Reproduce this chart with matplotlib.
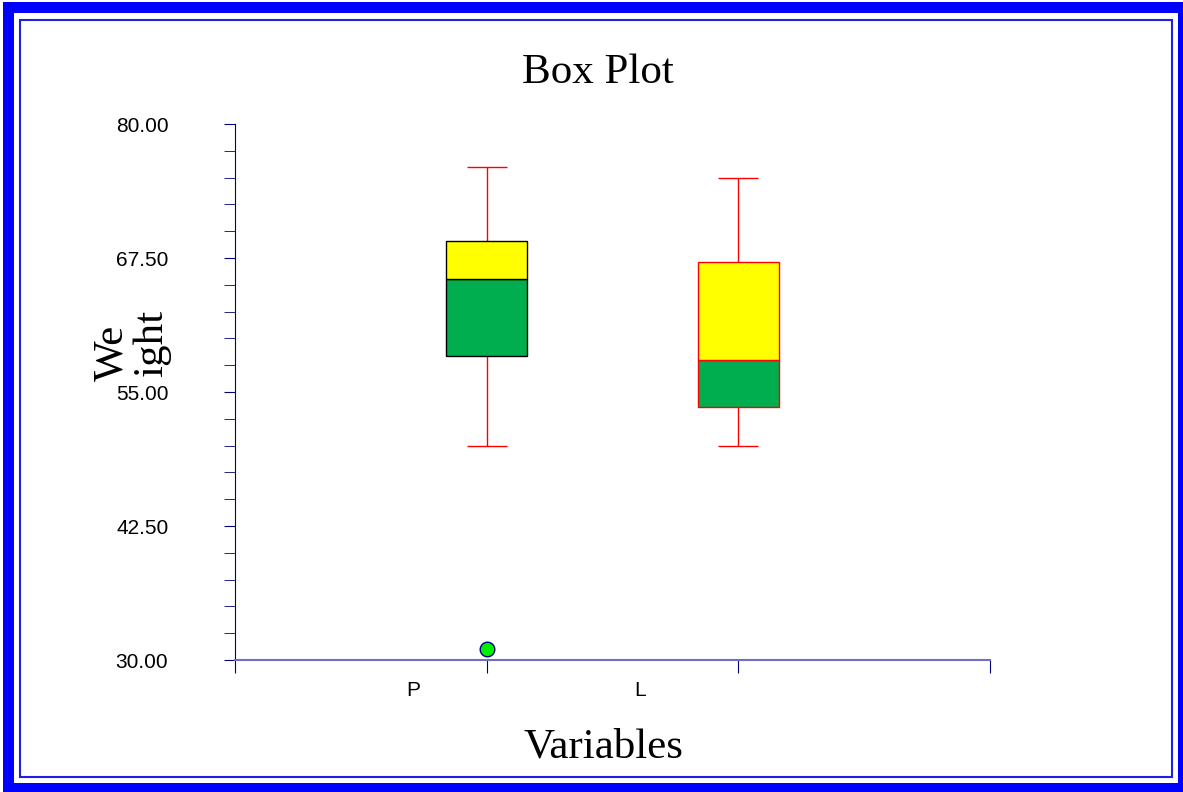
import matplotlib.pyplot as plt
from matplotlib.patches import Rectangle
import numpy as np

# * Box plot of weight by variable

categories = ['P', 'L']
whisker_low = [50.0, 50.0]
q1 = [58.4, 53.6]
median = [65.5, 58.0]
q3 = [69.1, 67.1]
whisker_high = [76.0, 75.0]
outlier_x = [1]
outlier_y = [31.0]
edge_colors = ['black', 'red']

ytick_major = np.arange(30, 80.1, 12.5)
ytick_minor = np.arange(30, 80.1, 2.5)

W, H = 1183, 792
fig = plt.figure(figsize=(W / 100, H / 100), dpi=100)


def px(x, y):
    # pixel position (from top left) -> figure fraction
    return x / W, 1 - y / H


# frame around the figure
fig.patches.append(Rectangle((3 / W, 0), 1, 1 - 2 / H, transform=fig.transFigure,
                             facecolor='#0000ff', edgecolor='none', zorder=-3))
fig.patches.append(Rectangle(px(14, 783), (1178 - 14) / W, (783 - 13) / H,
                             transform=fig.transFigure, facecolor='white',
                             edgecolor='none', zorder=-2))
fig.patches.append(Rectangle(px(20, 777), (1172 - 20) / W, (777 - 20) / H,
                             transform=fig.transFigure, facecolor='none',
                             edgecolor='#2020e0', linewidth=1.5, zorder=-1))

ax = fig.add_axes([235 / W, 1 - 660 / H, (990 - 235) / W, (660 - 124) / H])
ax.set_xlim(0, 3)
ax.set_ylim(30, 80)

x = np.arange(1, len(categories) + 1)
box_w = 0.32
cap_w = 0.16
for i in range(len(categories)):
    ec = edge_colors[i]
    ax.vlines(x[i], whisker_low[i], q1[i], color='red', lw=1)
    ax.vlines(x[i], q3[i], whisker_high[i], color='red', lw=1)
    ax.hlines([whisker_low[i], whisker_high[i]], x[i] - cap_w / 2, x[i] + cap_w / 2,
              color='red', lw=1)
    ax.bar(x[i], median[i] - q1[i], bottom=q1[i], width=box_w, color='#00ad4f',
           edgecolor=ec, linewidth=1, zorder=2)
    ax.bar(x[i], q3[i] - median[i], bottom=median[i], width=box_w, color='#ffff00',
           edgecolor=ec, linewidth=1, zorder=2)

ax.plot(outlier_x, outlier_y, 'o', markersize=10.5, markerfacecolor='#00ee00',
        markeredgecolor='#000080', markeredgewidth=1, zorder=3, clip_on=False)

for s in ['top', 'right']:
    ax.spines[s].set_visible(False)
ax.spines['left'].set_color('#000080')
ax.spines['bottom'].set_color('#7070c0')
ax.spines['bottom'].set_linewidth(1.5)

ax.set_yticks(ytick_major)
ax.set_yticks(ytick_minor, minor=True)
ax.set_yticklabels([f'{v:.2f}' for v in ytick_major], fontsize=15,
                   fontfamily='Liberation Sans')
ax.tick_params(axis='y', which='both', length=8, color='#000080', pad=40)
ax.set_xticks([0, 1, 2, 3])
ax.set_xticklabels([])
ax.tick_params(axis='x', length=9, color='#000080')

label_pos = [0.71, 1.61]
for lx, name in zip(label_pos, categories):
    ax.text(lx, -0.056, name, transform=ax.get_xaxis_transform(), ha='center',
            va='center', fontsize=15, fontfamily='Liberation Sans')

serif = dict(fontsize=31, fontfamily='Liberation Serif')
fig.text(*px(598, 83), 'Box Plot', ha='center', va='baseline', **serif)
fig.text(*px(603, 758), 'Variables', ha='center', va='baseline', **serif)
# y label is split over two lines, as in the original
fig.text(*px(122, 353), 'We', rotation=90, rotation_mode='anchor',
         ha='center', va='baseline', **serif)
fig.text(*px(162, 343), 'ight', rotation=90, rotation_mode='anchor',
         ha='center', va='baseline', **serif)

fig.savefig('out.png', dpi=100)
